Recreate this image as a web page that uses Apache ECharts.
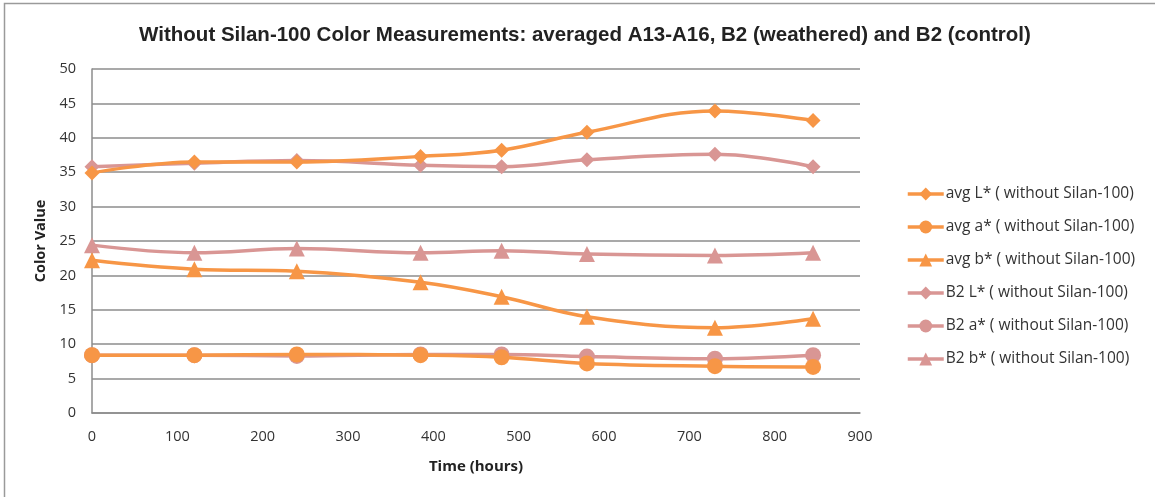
<!DOCTYPE html>
<html>
<head>
<meta charset="utf-8">
<script src="https://cdn.jsdelivr.net/npm/echarts@6/dist/echarts.min.js"></script>
<style>
html,body{margin:0;padding:0;background:#fff;}
#c{width:1155px;height:497px;}
</style>
</head>
<body>
<div id="c"></div>
<script>
var hours = [0, 120, 240, 385, 480, 580, 730, 845];
var avgL = [34.9, 36.5, 36.5, 37.3, 38.2, 40.8, 43.9, 42.5];
var avgA = [8.4, 8.4, 8.5, 8.4, 8.1, 7.2, 6.8, 6.7];
var avgB = [22.2, 20.9, 20.6, 19.0, 16.9, 14.0, 12.4, 13.7];
var b2L = [35.8, 36.3, 36.7, 36.0, 35.8, 36.8, 37.6, 35.8];
var b2A = [8.4, 8.4, 8.3, 8.5, 8.5, 8.2, 7.9, 8.4];
var b2B = [24.4, 23.3, 23.9, 23.3, 23.6, 23.1, 22.9, 23.3];
var seriesNames = [
  'avg L* ( without Silan-100)',
  'avg a* ( without Silan-100)',
  'avg b* ( without Silan-100)',
  'B2 L* ( without Silan-100)',
  'B2 a* ( without Silan-100)',
  'B2 b* ( without Silan-100)'
];
var xTicks = [0, 100, 200, 300, 400, 500, 600, 700, 800, 900];
var yTicks = [0, 5, 10, 15, 20, 25, 30, 35, 40, 45, 50];

var ORANGE = '#F79646';
var PINK = '#D99694';
var values = [avgL, avgA, avgB, b2L, b2A, b2B];
var colors = [ORANGE, ORANGE, ORANGE, PINK, PINK, PINK];
var symbols = ['diamond', 'circle', 'triangle', 'diamond', 'circle', 'triangle'];
var sizes = [15, 16, 16, 15, 16, 16];

function pairs(v){ return hours.map(function(h,i){ return [h, v[i]]; }); }

var series = values.map(function(v, i){
  return {
    name: seriesNames[i],
    type: 'line',
    data: pairs(v),
    smooth: 0.4,
    symbol: symbols[i],
    symbolSize: sizes[i],
    lineStyle: {color: colors[i], width: 3.5},
    itemStyle: {color: colors[i]},
    z: i >= 3 ? 2 : 3
  };
});
var font = 'Open Sans';
var chart = echarts.init(document.getElementById('c'), null, {renderer: 'canvas'});
chart.setOption({
  animation: false,
  backgroundColor: '#fff',
  title: {
    text: 'Without Silan-100 Color Measurements: averaged A13-A16, B2 (weathered) and B2 (control)',
    left: 580, top: 20, textAlign: 'center',
    textStyle: {fontFamily: 'Liberation Sans', fontWeight: 'bold', fontSize: 20.5, color: '#222'}
  },
  legend: {
    orient: 'vertical',
    left: 901, top: 181,
    itemWidth: 36, itemHeight: 16, itemGap: 17,
    data: seriesNames,
    lineStyle: {width: 3.5},
    textStyle: {fontFamily: font, fontSize: 15.5, color: '#333', padding: [0,0,0,-3]}
  },
  grid: {left: 92, top: 69, right: 295, bottom: 84},
  xAxis: {
    type: 'value', min: 0, max: 900, interval: 100,
    axisLine: {show: true, lineStyle: {color: '#8c8c8c', width: 1.5}},
    axisTick: {show: false},
    splitLine: {show: false},
    axisLabel: {fontFamily: font, fontSize: 14.5, color: '#333', margin: 16},
    name: 'Time (hours)', nameLocation: 'middle', nameGap: 46,
    nameTextStyle: {fontFamily: font, fontWeight: 'bold', fontSize: 15, color: '#222'}
  },
  yAxis: {
    type: 'value', min: 0, max: 50, interval: 5,
    axisLine: {show: true, lineStyle: {color: '#8c8c8c', width: 1.5}},
    axisTick: {show: false},
    splitLine: {show: true, lineStyle: {color: '#8c8c8c', width: 1.5}},
    axisLabel: {fontFamily: font, fontSize: 14.5, color: '#333', margin: 16},
    name: 'Color Value', nameLocation: 'middle', nameGap: 44, nameRotate: 90,
    nameTextStyle: {fontFamily: font, fontWeight: 'bold', fontSize: 14.5, color: '#222'}
  },
  graphic: [{
    type: 'rect', shape: {x: 4.5, y: 3.5, width: 1200, height: 600},
    style: {fill: 'none', stroke: '#9a9a9a', lineWidth: 1.5}, silent: true, z: -1
  }],
  series: series
});
</script>
</body>
</html>
